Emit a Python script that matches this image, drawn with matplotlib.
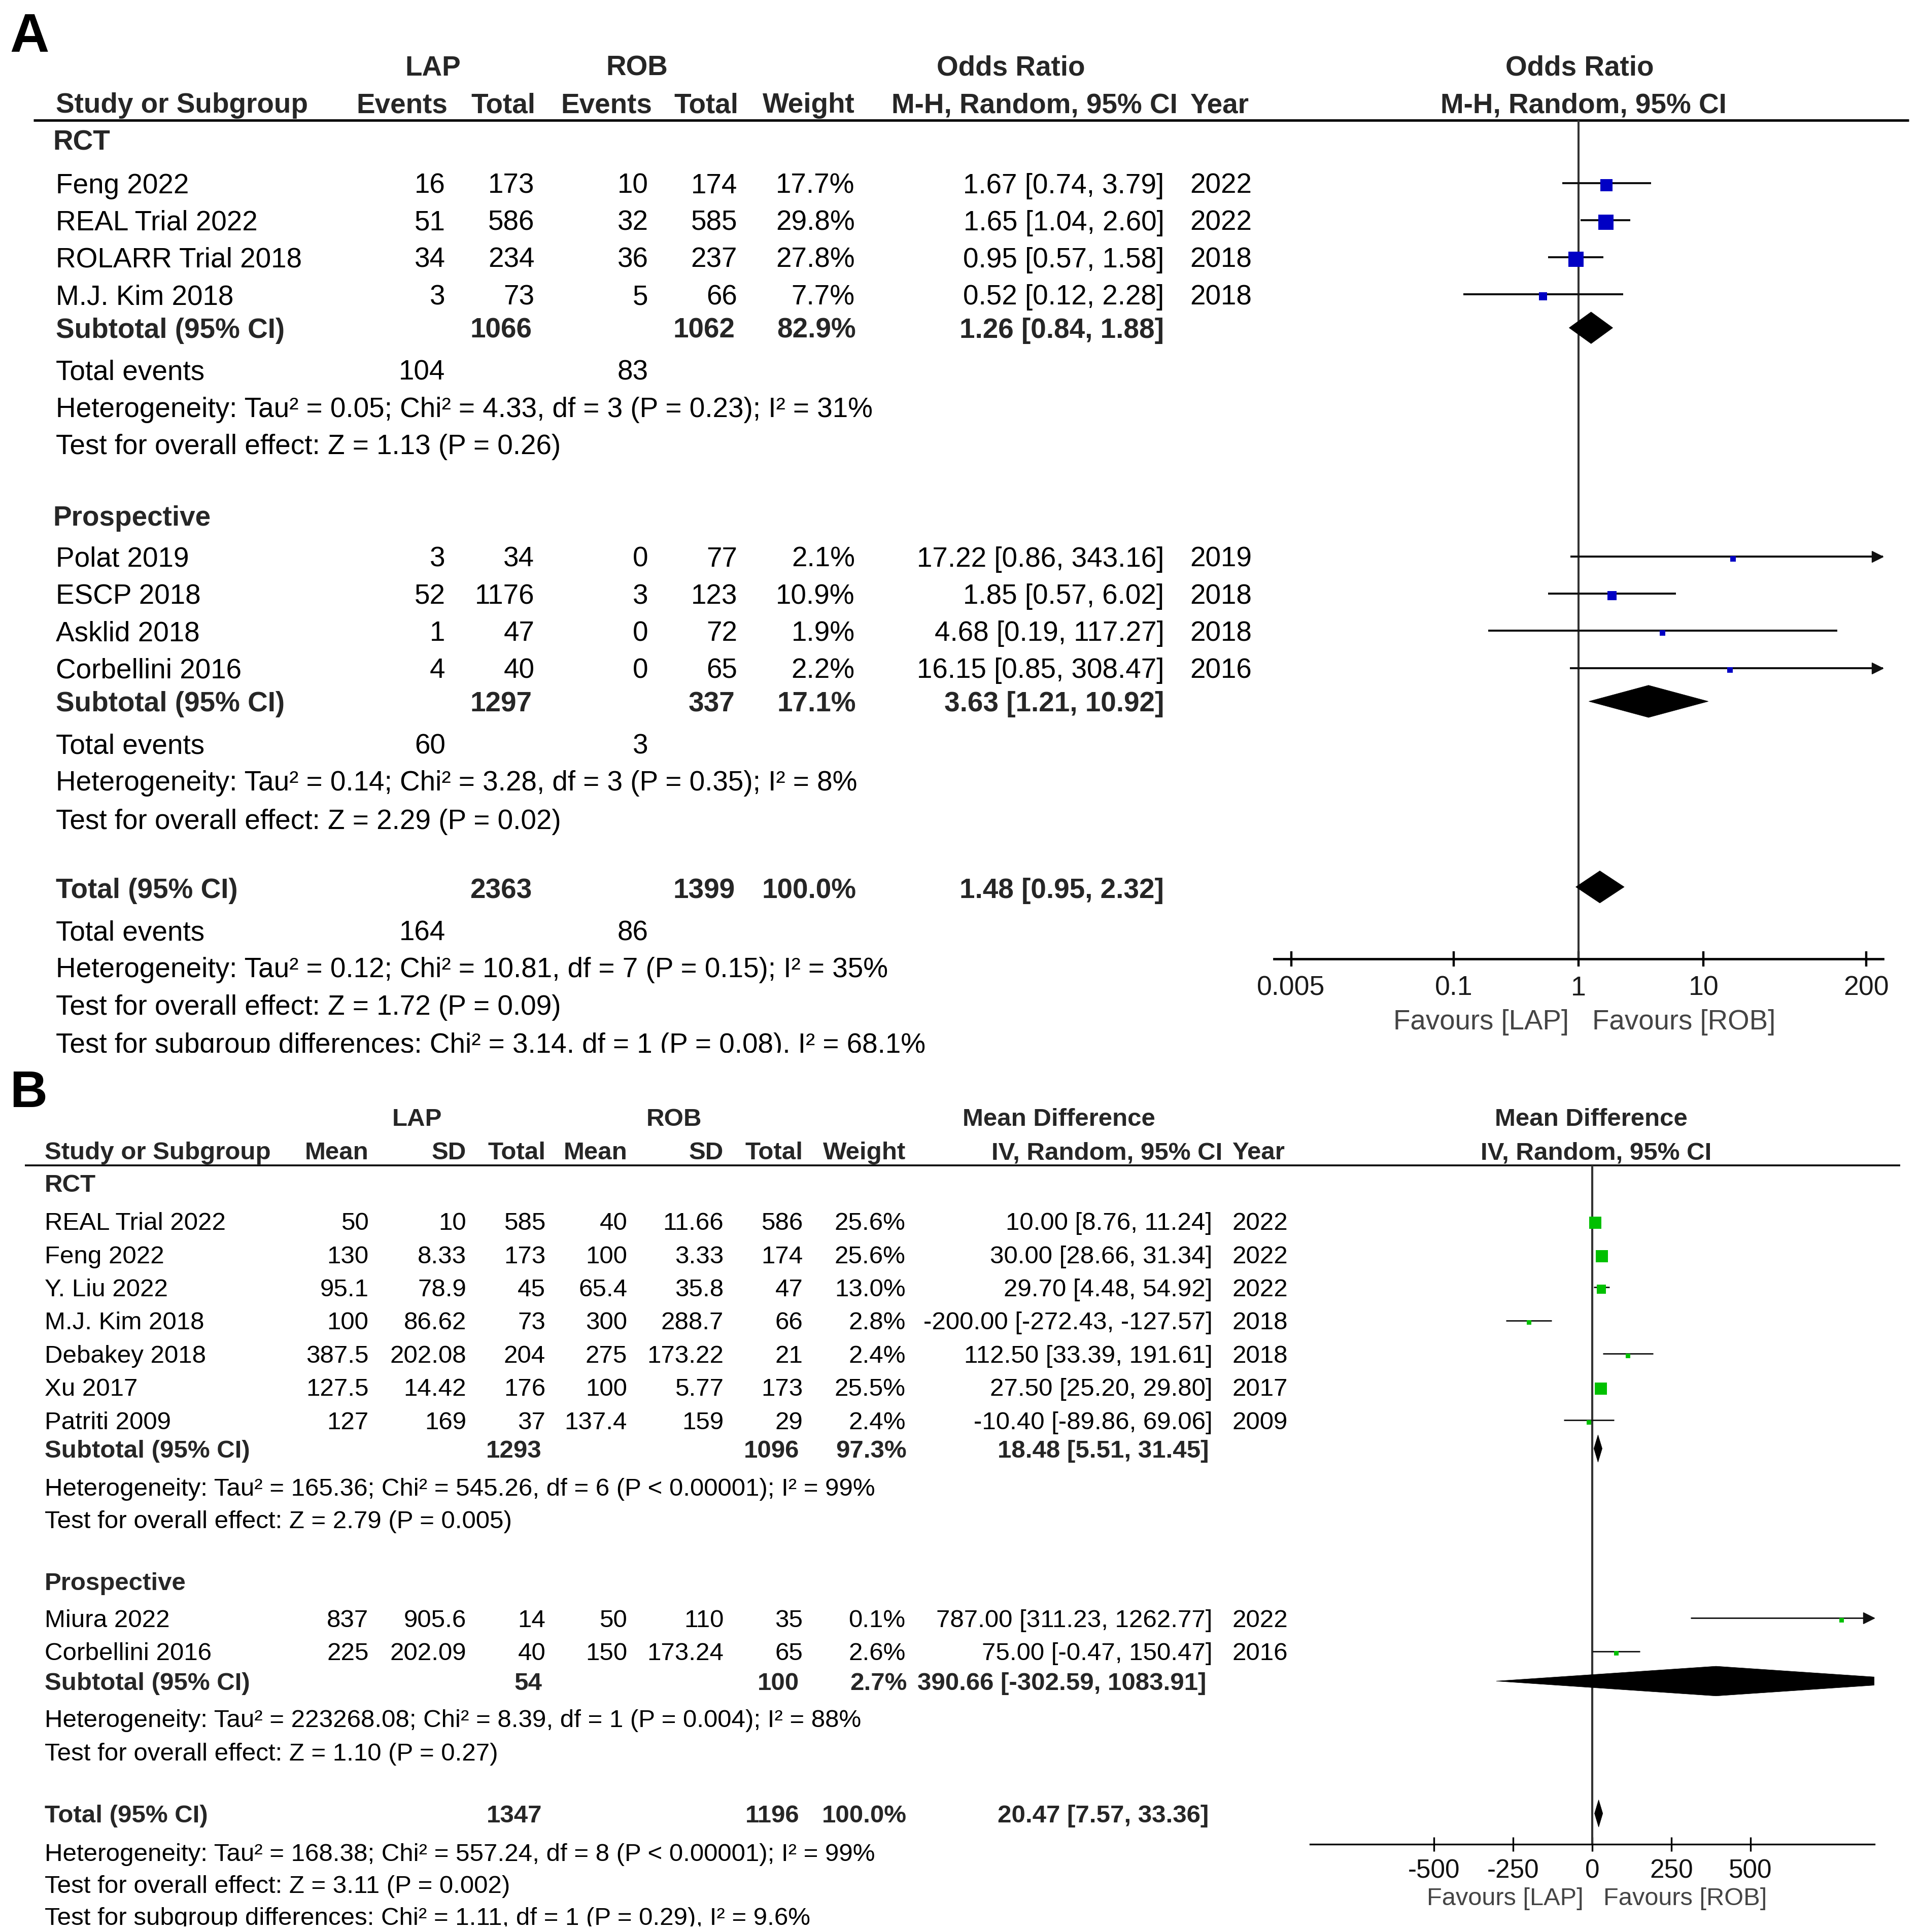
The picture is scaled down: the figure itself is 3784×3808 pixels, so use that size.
import matplotlib
matplotlib.use("Agg")
import matplotlib.pyplot as plt
from matplotlib.patches import Polygon, Rectangle
from matplotlib.transforms import offset_copy
import numpy as np

plt.rcParams['font.family'] = ['Liberation Sans', 'DejaVu Sans']

# ---------------- Panel A data (Odds Ratio) ----------------
A_rct_names = ["Feng 2022", "REAL Trial 2022", "ROLARR Trial 2018", "M.J. Kim 2018"]
A_rct_lap_ev = [16, 51, 34, 3]
A_rct_lap_tot = [173, 586, 234, 73]
A_rct_rob_ev = [10, 32, 36, 5]
A_rct_rob_tot = [174, 585, 237, 66]
A_rct_wt = [17.7, 29.8, 27.8, 7.7]
A_rct_or = [1.67, 1.65, 0.95, 0.52]
A_rct_lo = [0.74, 1.04, 0.57, 0.12]
A_rct_hi = [3.79, 2.60, 1.58, 2.28]
A_rct_year = [2022, 2022, 2018, 2018]
A_rct_sub = dict(lap_tot=1066, rob_tot=1062, wt=82.9, est=1.26, lo=0.84, hi=1.88,
                 lap_ev=104, rob_ev=83)
A_rct_het = "Heterogeneity: Tau² = 0.05; Chi² = 4.33, df = 3 (P = 0.23); I² = 31%"
A_rct_test = "Test for overall effect: Z = 1.13 (P = 0.26)"

A_pro_names = ["Polat 2019", "ESCP 2018", "Asklid 2018", "Corbellini 2016"]
A_pro_lap_ev = [3, 52, 1, 4]
A_pro_lap_tot = [34, 1176, 47, 40]
A_pro_rob_ev = [0, 3, 0, 0]
A_pro_rob_tot = [77, 123, 72, 65]
A_pro_wt = [2.1, 10.9, 1.9, 2.2]
A_pro_or = [17.22, 1.85, 4.68, 16.15]
A_pro_lo = [0.86, 0.57, 0.19, 0.85]
A_pro_hi = [343.16, 6.02, 117.27, 308.47]
A_pro_year = [2019, 2018, 2018, 2016]
A_pro_sub = dict(lap_tot=1297, rob_tot=337, wt=17.1, est=3.63, lo=1.21, hi=10.92,
                 lap_ev=60, rob_ev=3)
A_pro_het = "Heterogeneity: Tau² = 0.14; Chi² = 3.28, df = 3 (P = 0.35); I² = 8%"
A_pro_test = "Test for overall effect: Z = 2.29 (P = 0.02)"

A_tot = dict(lap_tot=2363, rob_tot=1399, wt=100.0, est=1.48, lo=0.95, hi=2.32,
             lap_ev=164, rob_ev=86)
A_tot_het = "Heterogeneity: Tau² = 0.12; Chi² = 10.81, df = 7 (P = 0.15); I² = 35%"
A_tot_test = "Test for overall effect: Z = 1.72 (P = 0.09)"
A_sub_diff = "Test for subgroup differences: Chi² = 3.14, df = 1 (P = 0.08), I² = 68.1%"
A_ticks = [0.005, 0.1, 1, 10, 200]
A_ticklabels = ["0.005", "0.1", "1", "10", "200"]

# ---------------- Panel B data (Mean Difference) ----------------
B_rct_names = ["REAL Trial 2022", "Feng 2022", "Y. Liu 2022", "M.J. Kim 2018",
               "Debakey 2018", "Xu 2017", "Patriti 2009"]
B_rct_lap_mean = [50, 130, 95.1, 100, 387.5, 127.5, 127]
B_rct_lap_sd = [10, 8.33, 78.9, 86.62, 202.08, 14.42, 169]
B_rct_lap_tot = [585, 173, 45, 73, 204, 176, 37]
B_rct_rob_mean = [40, 100, 65.4, 300, 275, 100, 137.4]
B_rct_rob_sd = [11.66, 3.33, 35.8, 288.7, 173.22, 5.77, 159]
B_rct_rob_tot = [586, 174, 47, 66, 21, 173, 29]
B_rct_wt = [25.6, 25.6, 13.0, 2.8, 2.4, 25.5, 2.4]
B_rct_md = [10.00, 30.00, 29.70, -200.00, 112.50, 27.50, -10.40]
B_rct_lo = [8.76, 28.66, 4.48, -272.43, 33.39, 25.20, -89.86]
B_rct_hi = [11.24, 31.34, 54.92, -127.57, 191.61, 29.80, 69.06]
B_rct_year = [2022, 2022, 2022, 2018, 2018, 2017, 2009]
B_rct_sub = dict(lap_tot=1293, rob_tot=1096, wt=97.3, est=18.48, lo=5.51, hi=31.45)
B_rct_het = "Heterogeneity: Tau² = 165.36; Chi² = 545.26, df = 6 (P < 0.00001); I² = 99%"
B_rct_test = "Test for overall effect: Z = 2.79 (P = 0.005)"

B_pro_names = ["Miura 2022", "Corbellini 2016"]
B_pro_lap_mean = [837, 225]
B_pro_lap_sd = [905.6, 202.09]
B_pro_lap_tot = [14, 40]
B_pro_rob_mean = [50, 150]
B_pro_rob_sd = [110, 173.24]
B_pro_rob_tot = [35, 65]
B_pro_wt = [0.1, 2.6]
B_pro_md = [787.00, 75.00]
B_pro_lo = [311.23, -0.47]
B_pro_hi = [1262.77, 150.47]
B_pro_year = [2022, 2016]
B_pro_sub = dict(lap_tot=54, rob_tot=100, wt=2.7, est=390.66, lo=-302.59, hi=1083.91)
B_pro_het = "Heterogeneity: Tau² = 223268.08; Chi² = 8.39, df = 1 (P = 0.004); I² = 88%"
B_pro_test = "Test for overall effect: Z = 1.10 (P = 0.27)"

B_tot = dict(lap_tot=1347, rob_tot=1196, wt=100.0, est=20.47, lo=7.57, hi=33.36)
B_tot_het = "Heterogeneity: Tau² = 168.38; Chi² = 557.24, df = 8 (P < 0.00001); I² = 99%"
B_tot_test = "Test for overall effect: Z = 3.11 (P = 0.002)"
B_sub_diff = "Test for subgroup differences: Chi² = 1.11, df = 1 (P = 0.29), I² = 9.6%"
B_ticks = [-500, -250, 0, 250, 500]
B_ticklabels = ["-500", "-250", "0", "250", "500"]

# ---------------- figure setup ----------------
W, H = 3784, 3808
S = W / 1552.0          # layout units -> pixels
DW, DH = 1552.0, H / S

fig = plt.figure(figsize=(W / 100, H / 100), dpi=100)
bg = fig.add_axes([0, 0, 1, 1])
bg.set_xlim(0, DW)
bg.set_ylim(DH, 0)
bg.axis('off')


def fs(px):
    return px * S * 0.72


HDR = '#262626'


def T(x, y, s, size, ha='left', bold=False, color='black'):
    bg.text(x, y + 0.36 * size, s, fontsize=fs(size), ha=ha, va='baseline',
            fontweight='bold' if bold else 'normal', color=color, zorder=5)


def ci_str(e, l, h):
    return f"{e:.2f} [{l:.2f}, {h:.2f}]"


def forest_axes(x0, x1, y0, y1):
    ax = fig.add_axes([x0 / DW, 1 - y1 / DH, (x1 - x0) / DW, (y1 - y0) / DH])
    ax.set_ylim(y1, y0)
    for sp in ['top', 'left', 'right']:
        ax.spines[sp].set_visible(False)
    ax.set_yticks([])
    ax.patch.set_alpha(0)
    return ax


def draw_studies(ax, ys, est, lo, hi, wts, color, k, minpx, lw, xmin, xmax):
    for y, e, l, h, w in zip(ys, est, lo, hi, wts):
        l2, h2 = max(l, xmin), min(h, xmax)
        ax.plot([l2, h2], [y, y], color='#111111', lw=lw, solid_capstyle='butt', zorder=3)
        side = max(k * np.sqrt(w), minpx)
        ax.plot([e], [y + 1.5], marker='s', ms=side * 0.72, mfc=color, mec=color, mew=0,
                ls='none', zorder=4)
        if h > xmax:
            tr = offset_copy(ax.transData, fig=fig, x=-11, y=0, units='dots')
            ax.plot([xmax], [y], marker='>', ms=22 * 0.72, color='#111111',
                    transform=tr, clip_on=False, zorder=5)


def diamond(ax, y, e, l, h, hh):
    ax.add_patch(Polygon([(l, y), (e, y - hh), (h, y), (e, y + hh)], closed=True,
                         facecolor='black', edgecolor='black', lw=0.5, zorder=4))


# ======================= PANEL A =======================
fa = 22.5
bg.text(8, 42, "A", fontsize=fs(44), fontweight='bold', ha='left', va='baseline')
cA = dict(name=45, lev=360, ltot=432, rev=524, rtot=596, wt=691, ci=941, year=962)

T(350, 53, "LAP", fa, 'center', True, HDR)
T(515, 53, "ROB", fa, 'center', True, HDR)
T(817, 53, "Odds Ratio", fa, 'center', True, HDR)
T(1277, 53, "Odds Ratio", fa, 'center', True, HDR)
T(cA['name'], 83, "Study or Subgroup", fa, 'left', True, HDR)
T(362, 83, "Events", fa, 'right', True, HDR)
T(433, 83, "Total", fa, 'right', True, HDR)
T(527, 83, "Events", fa, 'right', True, HDR)
T(597, 83, "Total", fa, 'right', True, HDR)
T(691, 83, "Weight", fa, 'right', True, HDR)
T(952, 83, "M-H, Random, 95% CI", fa, 'right', True, HDR)
T(962, 83, "Year", fa, 'left', True, HDR)
T(1280, 83, "M-H, Random, 95% CI", fa, 'center', True, HDR)
bg.plot([27, 1543], [97, 97], color='black', lw=3.5, solid_capstyle='butt')


def A_rows(y0, names, lev, ltot, rev, rtot, wt, est, lo, hi, yr):
    ys = [y0 + 30 * i for i in range(len(names))]
    for y, n, a, b, c, d, w, e, l, h, yy in zip(ys, names, lev, ltot, rev, rtot, wt, est, lo, hi, yr):
        T(cA['name'], y, n, fa)
        T(cA['lev'], y, str(a), fa, 'right')
        T(cA['ltot'], y, str(b), fa, 'right')
        T(cA['rev'], y, str(c), fa, 'right')
        T(cA['rtot'], y, str(d), fa, 'right')
        T(cA['wt'], y, f"{w:.1f}%", fa, 'right')
        T(cA['ci'], y, ci_str(e, l, h), fa, 'right')
        T(cA['year'], y, str(yy), fa, 'left')
    return ys


def A_summary(y, label, d):
    T(cA['name'], y, label, fa, 'left', True, HDR)
    T(cA['ltot'] - 2, y, str(d['lap_tot']), fa, 'right', True, HDR)
    T(cA['rtot'] - 2, y, str(d['rob_tot']), fa, 'right', True, HDR)
    T(cA['wt'] + 1, y, f"{d['wt']:.1f}%", fa, 'right', True, HDR)
    T(cA['ci'], y, ci_str(d['est'], d['lo'], d['hi']), fa, 'right', True, HDR)


def A_events(y, d):
    T(cA['name'], y, "Total events", fa)
    T(cA['lev'], y, str(d['lap_ev']), fa, 'right')
    T(cA['rev'], y, str(d['rob_ev']), fa, 'right')


T(43, 113, "RCT", fa, 'left', True, HDR)
ysA1 = A_rows(148, A_rct_names, A_rct_lap_ev, A_rct_lap_tot, A_rct_rob_ev, A_rct_rob_tot,
              A_rct_wt, A_rct_or, A_rct_lo, A_rct_hi, A_rct_year)
A_summary(265, "Subtotal (95% CI)", A_rct_sub)
A_events(299, A_rct_sub)
T(cA['name'], 329, A_rct_het, fa)
T(cA['name'], 359, A_rct_test, fa)

T(43, 417, "Prospective", fa, 'left', True, HDR)
ysA2 = A_rows(450, A_pro_names, A_pro_lap_ev, A_pro_lap_tot, A_pro_rob_ev, A_pro_rob_tot,
              A_pro_wt, A_pro_or, A_pro_lo, A_pro_hi, A_pro_year)
A_summary(567, "Subtotal (95% CI)", A_pro_sub)
A_events(601, A_pro_sub)
T(cA['name'], 631, A_pro_het, fa)
T(cA['name'], 662, A_pro_test, fa)

A_summary(718, "Total (95% CI)", A_tot)
A_events(752, A_tot)
T(cA['name'], 782, A_tot_het, fa)
T(cA['name'], 812, A_tot_test, fa)
T(cA['name'], 843, A_sub_diff, fa)
bg.add_patch(Rectangle((0, 851), 1000, 9, facecolor='white', edgecolor='none', zorder=10))

axA = forest_axes(1030, 1522, 97, 775)
axA.set_xscale('log')
xminA, xmaxA = 10 ** -2.436, 10 ** 2.436
axA.set_xlim(xminA, xmaxA)
axA.axvline(1, color='#333333', lw=2.9, zorder=2)
axA.spines['bottom'].set_linewidth(3.4)
axA.set_xticks(A_ticks)
axA.set_xticklabels(A_ticklabels)
axA.xaxis.set_minor_locator(matplotlib.ticker.NullLocator())
axA.tick_params(axis='x', direction='inout', length=22, width=3.2, labelsize=fs(22),
                labelcolor='#1a1a1a', pad=13)
draw_studies(axA, ysA1, A_rct_or, A_rct_lo, A_rct_hi, A_rct_wt, '#0000C4', 5.6, 11, 2.9,
             xminA, xmaxA)
draw_studies(axA, ysA2, A_pro_or, A_pro_lo, A_pro_hi, A_pro_wt, '#0000C4', 5.6, 11, 2.9,
             xminA, xmaxA)
diamond(axA, 265, A_rct_sub['est'], A_rct_sub['lo'], A_rct_sub['hi'], 12.8)
diamond(axA, 567, A_pro_sub['est'], A_pro_sub['lo'], A_pro_sub['hi'], 13)
diamond(axA, 717, A_tot['est'], A_tot['lo'], A_tot['hi'], 13)
T(1268, 824, "Favours [LAP]", 22.4, 'right', False, '#444444')
T(1287, 824, "Favours [ROB]", 22.4, 'left', False, '#444444')

# ======================= PANEL B =======================
fb = 20.2
bg.text(8, 895, "B", fontsize=fs(42), fontweight='bold', ha='left', va='baseline')
cB = dict(name=36, m1=298, s1=377, t1=441, m2=507, s2=585, t2=649, wt=732, ci=980, year=996)

T(337, 903, "LAP", fb, 'center', True, HDR)
T(545, 903, "ROB", fb, 'center', True, HDR)
T(856, 903, "Mean Difference", fb, 'center', True, HDR)
T(1286, 903, "Mean Difference", fb, 'center', True, HDR)
T(cB['name'], 930, "Study or Subgroup", fb, 'left', True, HDR)
T(cB['m1'], 930, "Mean", fb, 'right', True, HDR)
T(cB['s1'], 930, "SD", fb, 'right', True, HDR)
T(cB['t1'], 930, "Total", fb, 'right', True, HDR)
T(cB['m2'], 930, "Mean", fb, 'right', True, HDR)
T(cB['s2'], 930, "SD", fb, 'right', True, HDR)
T(cB['t2'], 930, "Total", fb, 'right', True, HDR)
T(cB['wt'], 930, "Weight", fb, 'right', True, HDR)
T(988, 930, "IV, Random, 95% CI", fb, 'right', True, HDR)
T(cB['year'], 930, "Year", fb, 'left', True, HDR)
T(1290, 930, "IV, Random, 95% CI", fb, 'center', True, HDR)
bg.plot([20, 1536], [942, 942], color='black', lw=2.6, solid_capstyle='butt')


def B_rows(y0, names, m1, s1, t1, m2, s2, t2, wt, est, lo, hi, yr):
    ys = [y0 + 26.83 * i for i in range(len(names))]
    for i, y in enumerate(ys):
        T(cB['name'], y, names[i], fb)
        T(cB['m1'], y, f"{m1[i]:g}", fb, 'right')
        T(cB['s1'], y, f"{s1[i]:g}", fb, 'right')
        T(cB['t1'], y, str(t1[i]), fb, 'right')
        T(cB['m2'], y, f"{m2[i]:g}", fb, 'right')
        T(cB['s2'], y, f"{s2[i]:g}", fb, 'right')
        T(cB['t2'], y, str(t2[i]), fb, 'right')
        T(cB['wt'], y, f"{wt[i]:.1f}%", fb, 'right')
        T(cB['ci'], y, ci_str(est[i], lo[i], hi[i]), fb, 'right')
        T(cB['year'], y, str(yr[i]), fb, 'left')
    return ys


def B_summary(y, label, d, ci_x):
    T(cB['name'], y, label, fb, 'left', True, HDR)
    T(cB['t1'] - 3, y, str(d['lap_tot']), fb, 'right', True, HDR)
    T(cB['t2'] - 3, y, str(d['rob_tot']), fb, 'right', True, HDR)
    T(cB['wt'] + 1, y, f"{d['wt']:.1f}%", fb, 'right', True, HDR)
    T(ci_x, y, ci_str(d['est'], d['lo'], d['hi']), fb, 'right', True, HDR)


T(cB['name'], 956, "RCT", fb, 'left', True, HDR)
ysB1 = B_rows(987, B_rct_names, B_rct_lap_mean, B_rct_lap_sd, B_rct_lap_tot, B_rct_rob_mean,
              B_rct_rob_sd, B_rct_rob_tot, B_rct_wt, B_rct_md, B_rct_lo, B_rct_hi, B_rct_year)
B_summary(1171, "Subtotal (95% CI)", B_rct_sub, 977)
T(cB['name'], 1202, B_rct_het, fb)
T(cB['name'], 1228, B_rct_test, fb)

T(cB['name'], 1278, "Prospective", fb, 'left', True, HDR)
ysB2 = B_rows(1308, B_pro_names, B_pro_lap_mean, B_pro_lap_sd, B_pro_lap_tot, B_pro_rob_mean,
              B_pro_rob_sd, B_pro_rob_tot, B_pro_wt, B_pro_md, B_pro_lo, B_pro_hi, B_pro_year)
B_summary(1359, "Subtotal (95% CI)", B_pro_sub, 975)
T(cB['name'], 1389, B_pro_het, fb)
T(cB['name'], 1416, B_pro_test, fb)

B_summary(1466, "Total (95% CI)", B_tot, 977)
T(cB['name'], 1497, B_tot_het, fb)
T(cB['name'], 1523, B_tot_test, fb)
T(cB['name'], 1549, B_sub_diff, fb)
bg.add_patch(Rectangle((0, 1557.5), 1000, 10, facecolor='white', edgecolor='none', zorder=10))

axB = forest_axes(1059, 1515, 942, 1491)
xminB, xmaxB = -890, 890
axB.set_xlim(xminB, xmaxB)
axB.axvline(0, color='#333333', lw=3.0, zorder=2)
axB.spines['bottom'].set_linewidth(2.4)
axB.set_xticks(B_ticks)
axB.set_xticklabels(B_ticklabels)
axB.tick_params(axis='x', direction='inout', length=20, width=2.4, labelsize=fs(21),
                labelcolor='#111111', pad=10)
draw_studies(axB, ysB1, B_rct_md, B_rct_lo, B_rct_hi, B_rct_wt, '#00C000', 4.9, 9, 2.0,
             xminB, xmaxB)
draw_studies(axB, ysB2, B_pro_md, B_pro_lo, B_pro_hi, B_pro_wt, '#00C000', 4.9, 9, 2.0,
             xminB, xmaxB)
diamond(axB, 1171, B_rct_sub['est'], B_rct_sub['lo'], B_rct_sub['hi'], 11)
diamond(axB, 1359, B_pro_sub['est'], B_pro_sub['lo'], B_pro_sub['hi'], 12)
diamond(axB, 1466, B_tot['est'], B_tot['lo'], B_tot['hi'], 11)
T(1280, 1533, "Favours [LAP]", 20, 'right', False, '#444444')
T(1296, 1533, "Favours [ROB]", 20, 'left', False, '#444444')

fig.savefig("out.png", dpi=100, facecolor='white')
